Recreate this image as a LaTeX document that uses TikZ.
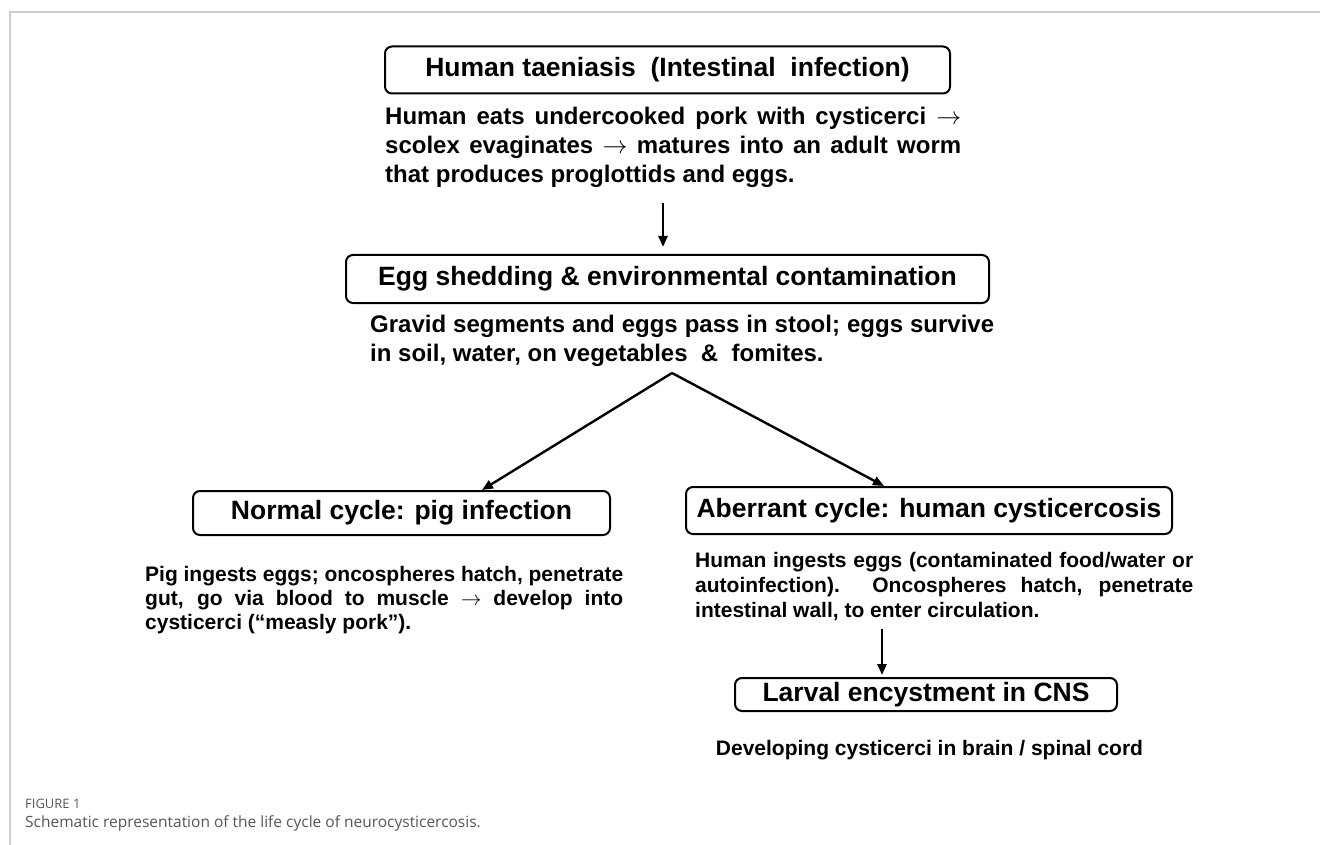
\documentclass[tikz,border=0pt]{standalone}
\usepackage{fontspec}
\setmainfont{Liberation Sans}
\newfontfamily\capfont{Open Sans}
\usetikzlibrary{arrows.meta}
\definecolor{framec}{HTML}{CCCCCC}
\definecolor{capc}{HTML}{555555}
\newcommand\jl[2]{\hbox to #1{#2}}
\tikzset{
  stagebox/.style={draw, line width=2pt, rounded corners=7pt, inner sep=0pt,
    font=\bfseries\fontsize{26.5}{30}\selectfont},
  desc/.style={inner sep=0pt, anchor=base west},
  bigdesc/.style={desc, font=\bfseries\fontsize{24}{28}\selectfont},
  smalldesc/.style={desc, font=\bfseries\fontsize{21}{25}\selectfont},
  arr/.style={line width=2.4pt, -{Triangle[length=11pt,width=9pt]}},
  captxt/.style={inner sep=0pt, anchor=base west, text=capc}
}
\begin{document}
\begin{tikzpicture}[x=1pt,y=-1pt]
\useasboundingbox (0,0) rectangle (1320,845);
% frame
\coordinate (fTR) at (1320,12);
\coordinate (fTL) at (10,12);
\coordinate (fBL) at (10,845);
\draw[framec, line width=1.5pt] (fTR) -- (fTL) -- (fBL);

% boxes
\node[stagebox, minimum width=565pt, minimum height=47pt] (b1) at (667.5,70)
  {Human taeniasis\ \ (Intestinal\ \ infection)};
\node[stagebox, minimum width=643pt, minimum height=48pt] (b2) at (667.5,279)
  {Egg shedding \& environmental contamination};
\node[stagebox, minimum width=417pt, minimum height=44pt] (b3) at (401.5,513)
  {Normal cycle: pig infection};
\node[stagebox, minimum width=486pt, minimum height=47pt] (b4) at (929,510.5)
  {Aberrant cycle: human cysticercosis};
\node[stagebox, minimum width=382pt, minimum height=33pt] (b5) at (926,694.5)
  {Larval encystment in CNS};

% descriptions
\node[bigdesc] (t1) at (385,125) {\vtop{\baselineskip=29pt
  \jl{576pt}{Human eats undercooked pork with cysticerci $\rightarrow$}
  \jl{576pt}{scolex evaginates $\rightarrow$ matures into an adult worm}
  \hbox{that produces proglottids and eggs.}}};
\node[bigdesc] (t2) at (370,332) {\vtop{\baselineskip=29pt
  \jl{624pt}{Gravid segments and eggs pass in stool; eggs survive}
  \hbox{in soil, water, on vegetables\ \ \&\ \ fomites.}}};
\node[smalldesc] (t3) at (145,581) {\vtop{\baselineskip=24pt
  \jl{478pt}{Pig ingests eggs; oncospheres hatch, penetrate}
  \jl{478pt}{gut, go via blood to muscle $\rightarrow$ develop into}
  \hbox{cysticerci (“measly pork”).}}};
\node[smalldesc] (t4) at (695,567) {\vtop{\baselineskip=25pt
  \jl{498pt}{Human ingests eggs (contaminated food/water or}
  \jl{498pt}{autoinfection). Oncospheres hatch, penetrate}
  \hbox{intestinal wall, to enter circulation.}}};
\node[smalldesc, anchor=base] (t5) at (929.5,755) {Developing cysticerci in brain / spinal cord};

% connectors
\coordinate (a1) at (663,203);
\draw[arr, shorten >=7pt] (a1) -- (a1 |- b2.north);
\coordinate (apex) at (672,373);
\draw[arr] (apex) -- ([xshift=80.5pt]b3.north);
\draw[arr] (apex) -- ([xshift=-45pt]b4.north);
\coordinate (a5) at (882,629);
\draw[arr, shorten >=2pt] (a5) -- (a5 |- b5.north);

% caption
\node[captxt, font=\capfont\fontsize{13}{15}\selectfont] (c1) at (25,808) {FIGURE 1};
\node[captxt, font=\capfont\fontsize{15.5}{18}\selectfont] (c2) at (25,827)
  {Schematic representation of the life cycle of neurocysticercosis.};
\end{tikzpicture}
\end{document}
